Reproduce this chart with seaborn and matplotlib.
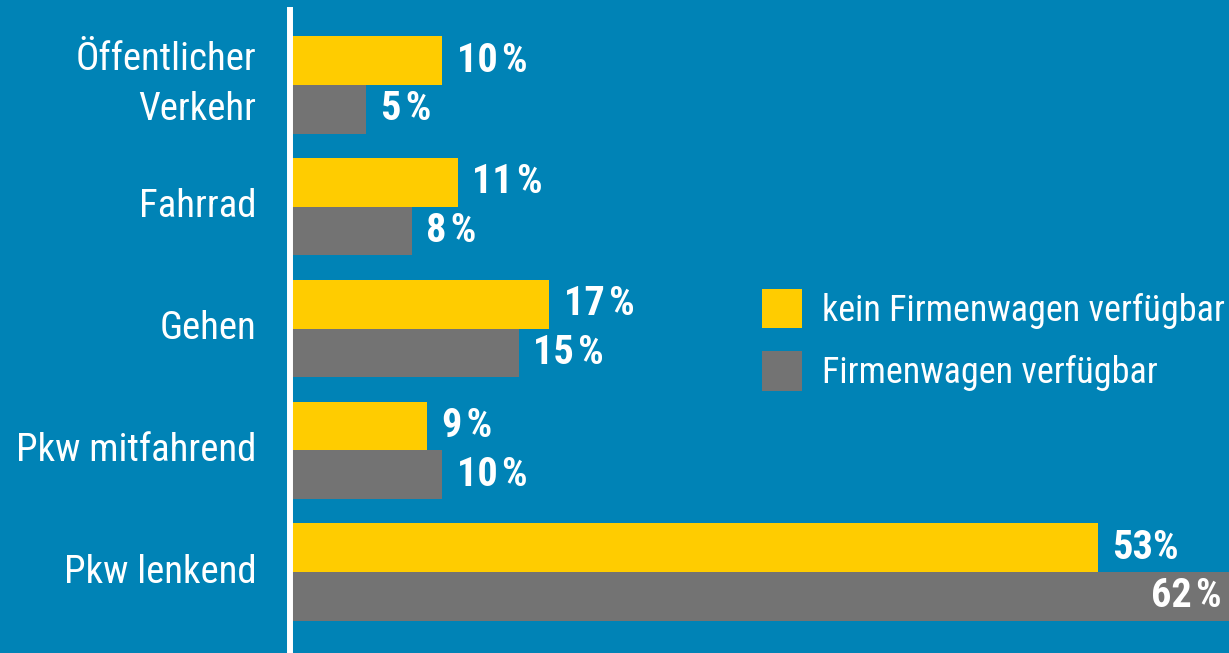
import matplotlib
matplotlib.use("Agg")
import matplotlib.pyplot as plt
import seaborn as sns
import pandas as pd

categories = ["Öffentlicher\nVerkehr", "Fahrrad", "Gehen", "Pkw mitfahrend", "Pkw lenkend"]
series_names = ["kein Firmenwagen verfügbar", "Firmenwagen verfügbar"]
kein_firmenwagen = [10, 11, 17, 9, 53]
firmenwagen = [5, 8, 15, 10, 62]
kein_labels = ["10\u200a%", "11\u200a%", "17\u200a%", "9\u200a%", "53%"]
firmen_labels = ["5\u200a%", "8\u200a%", "15\u200a%", "10\u200a%", "62\u200a%"]

BG = "#0083B6"
YELLOW = "#FFCC00"
GRAY = "#737373"

sns.set_theme(style="white")
plt.rcParams["font.family"] = ["Roboto Condensed", "DejaVu Sans"]

rows = []
for c, a, b in zip(categories, kein_firmenwagen, firmenwagen):
    rows.append({"cat": c, "serie": series_names[0], "val": a})
    rows.append({"cat": c, "serie": series_names[1], "val": b})
df = pd.DataFrame(rows)

W, H = 1229, 653
XMAX = 61.6
fig = plt.figure(figsize=(W / 100, H / 100), dpi=100, facecolor=BG)
ax = fig.add_axes([290 / W, 0, 1 - 290 / W, (H - 10) / H])
ax.set_facecolor(BG)

sns.barplot(data=df, y="cat", x="val", hue="serie", orient="h",
            palette=[YELLOW, GRAY], width=0.8, saturation=1, ax=ax,
            errorbar=None, legend=True, linewidth=0, edgecolor="none")

ax.set_xlim(0, XMAX)
ax.set_ylim(4.664, -0.615)
ax.set_xlabel("")
ax.set_ylabel("")
ax.set_xticks([])
for s in ["top", "right", "bottom"]:
    ax.spines[s].set_visible(False)
ax.spines["left"].set_color("white")
ax.spines["left"].set_linewidth(4.3)
ax.spines["left"].set_zorder(5)

ax.tick_params(axis="y", length=0, pad=24, labelsize=28, labelcolor="white")
for lbl in ax.get_yticklabels():
    lbl.set_linespacing(1.45)
    lbl.set_fontweight(400)
    lbl.set_verticalalignment("center")

# value labels
for ci, cont in enumerate(ax.containers):
    vals = kein_firmenwagen if ci == 0 else firmenwagen
    labs = kein_labels if ci == 0 else firmen_labels
    for bar, v, txt in zip(cont, vals, labs):
        yc = bar.get_y() + bar.get_height() / 2
        if v > XMAX:
            ax.text(XMAX - 0.5, yc, txt, ha="right", va="center", color="white",
                    fontsize=29, fontweight="bold", zorder=6)
        else:
            ax.text(v + 0.95, yc, txt, ha="left", va="center", color="white",
                    fontsize=29, fontweight="bold", zorder=6)

handles, labels = ax.get_legend_handles_labels()
if ax.legend_:
    ax.legend_.remove()
fig.legend(handles, labels, loc="upper left",
           bbox_to_anchor=(762 / W, 1 - 289 / H), frameon=False,
           fontsize=26, labelcolor="white", handlelength=1.11, handleheight=1.3,
           handletextpad=0.55, labelspacing=0.62, borderpad=0, borderaxespad=0)

fig.savefig("out.png", dpi=100, facecolor=BG)
